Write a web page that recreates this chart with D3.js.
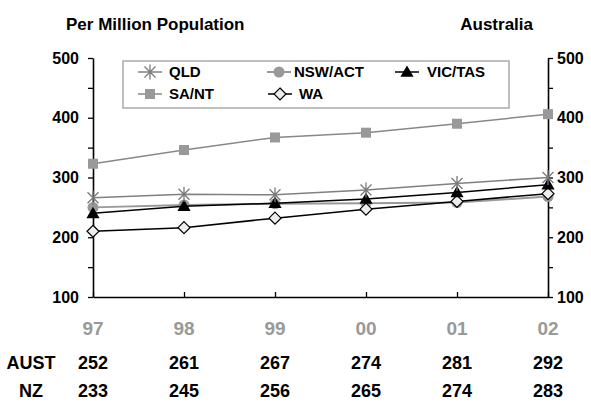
<!DOCTYPE html>
<html>
<head>
<meta charset="utf-8">
<script src="https://cdn.jsdelivr.net/npm/d3@7"></script>
<style>
  html, body { margin: 0; padding: 0; background: #fff; }
  svg { display: block; font-family: "Liberation Sans", Arial, sans-serif; font-weight: bold; }
</style>
</head>
<body>
<script>
// Years on the x axis
const years = ["97", "98", "99", "00", "01", "02"];

// Rates per million population, by state group
const qld    = [266, 272, 271, 279, 290, 300];
const nswAct = [250, 254, 256, 257, 258, 268];
const vicTas = [240, 252, 257, 264, 275, 288];
const saNt   = [323, 346, 367, 375, 390, 406];
const wa     = [210, 216, 232, 247, 260, 273];

// National totals shown under the chart
const aust = [252, 261, 267, 274, 281, 292];
const nz   = [233, 245, 256, 265, 274, 283];

const yMajor = [100, 200, 300, 400, 500];
const yMinor = [150, 250, 350, 450];

const W = 591, H = 402;
const svg = d3.select("body").append("svg").attr("width", W).attr("height", H);

const x = d3.scalePoint().domain(years).range([93, 548]).padding(0);
const y = d3.scaleLinear().domain([100, 500]).range([297, 58]);

// Marker shapes
const starPath = s => `M${-s},${-s}L${s},${s}M${-s},${s}L${s},${-s}M0,${-s * 1.35}L0,${s * 1.35}`;
const symbols = {
  star:     g => g.append("path").attr("d", starPath(5.5)).attr("stroke", "#7a7a7a").attr("stroke-width", 1.3).attr("fill", "none"),
  circle:   g => g.append("circle").attr("r", 5.5).attr("fill", "#999"),
  triangle: g => g.append("path").attr("d", d3.symbol(d3.symbolTriangle, 75)()).attr("fill", "#000").attr("transform", "translate(0,1)"),
  square:   g => g.append("rect").attr("x", -5).attr("y", -5).attr("width", 10).attr("height", 10).attr("fill", "#999"),
  diamond:  g => g.append("path").attr("d", "M0,-6L6,0L0,6L-6,0Z").attr("fill", "#eee").attr("stroke", "#000").attr("stroke-width", 1.2)
};

const series = [
  { name: "QLD",     values: qld,    line: "#808080", width: 1.5, symbol: "star",     textDx: 19 },
  { name: "NSW/ACT", values: nswAct, line: "#999",    width: 2,   symbol: "circle",   textDx: 15 },
  { name: "VIC/TAS", values: vicTas, line: "#000",    width: 1.5, symbol: "triangle", textDx: 20 },
  { name: "SA/NT",   values: saNt,   line: "#888",    width: 1.5, symbol: "square",   textDx: 19 },
  { name: "WA",      values: wa,     line: "#000",    width: 1.5, symbol: "diamond",  textDx: 19 }
];

// Axes
const tickFont = g => g.selectAll("text").attr("font-size", 16).attr("font-weight", "bold").attr("fill", "#000").attr("font-family", "Liberation Sans, Arial, sans-serif");
const axisStroke = g => { g.select(".domain").attr("stroke", "#000").attr("stroke-width", 1.6); g.selectAll(".tick line").attr("stroke", "#000").attr("stroke-width", 1.3); };

svg.append("g").attr("transform", `translate(${x("97")},0)`)
  .call(d3.axisLeft(y).tickValues(yMajor.concat(yMinor)).tickFormat(d => yMajor.includes(d) ? d : "").tickSize(5).tickSizeOuter(0).tickPadding(9))
  .call(tickFont).call(axisStroke);

svg.append("g").attr("transform", `translate(${x("02")},0)`)
  .call(d3.axisRight(y).tickValues(yMajor.concat(yMinor)).tickFormat(d => yMajor.includes(d) ? d : "").tickSize(5).tickSizeOuter(0).tickPadding(4))
  .call(tickFont).call(axisStroke);

svg.append("g").attr("transform", `translate(0,${y(100)})`)
  .call(d3.axisBottom(x).tickSize(-5).tickSizeOuter(0).tickFormat(""))
  .call(axisStroke);

// Series lines and markers
const line = d3.line().x((d, i) => x(years[i])).y(d => y(d));
const order = ["NSW/ACT", "WA", "VIC/TAS", "QLD", "SA/NT"];
order.forEach(n => {
  const s = series.find(d => d.name === n);
  const g = svg.append("g");
  g.append("path").attr("d", line(s.values)).attr("fill", "none").attr("stroke", s.line).attr("stroke-width", s.width);
  s.values.forEach((v, i) => {
    const m = g.append("g").attr("transform", `translate(${x(years[i])},${y(v)})`);
    symbols[s.symbol](m);
  });
});

// Legend
const leg = svg.append("g");
leg.append("rect").attr("x", 123).attr("y", 61).attr("width", 386).attr("height", 47)
  .attr("fill", "#fff").attr("stroke", "#aaa").attr("stroke-width", 1.5);
const legPos = [
  { cx: 150, cy: 72 }, { cx: 279, cy: 72 }, { cx: 407, cy: 72 },
  { cx: 150, cy: 94 }, { cx: 280, cy: 94 }
];
series.forEach((s, i) => {
  const p = legPos[i];
  const g = leg.append("g").attr("transform", `translate(${p.cx},${p.cy})`);
  g.append("line").attr("x1", -12).attr("x2", 12).attr("stroke", s.line).attr("stroke-width", s.width);
  symbols[s.symbol](g);
  g.append("text").attr("x", s.textDx).attr("y", 0).attr("dy", "0.36em")
    .attr("font-size", 15).attr("fill", "#000").text(s.name);
});

// Titles
svg.append("text").attr("x", 66).attr("y", 30).attr("font-size", 17).attr("fill", "#000").text("Per Million Population");
svg.append("text").attr("x", 533).attr("y", 30).attr("text-anchor", "end").attr("font-size", 17).attr("fill", "#000").text("Australia");

// Year labels
svg.append("g").selectAll("text").data(years).join("text")
  .attr("x", d => x(d)).attr("y", 335).attr("text-anchor", "middle")
  .attr("font-size", 19).attr("fill", "#999").text(d => d);

// Totals table
const rows = [{ label: "AUST", values: aust, yb: 369 }, { label: "NZ", values: nz, yb: 397 }];
rows.forEach(r => {
  svg.append("text").attr("x", 31).attr("y", r.yb).attr("text-anchor", "middle").attr("font-size", 18).attr("fill", "#000").text(r.label);
  svg.append("g").selectAll("text").data(r.values).join("text")
    .attr("x", (d, i) => x(years[i])).attr("y", r.yb).attr("text-anchor", "middle")
    .attr("font-size", 18).attr("fill", "#000").text(d => d);
});
</script>
</body>
</html>
